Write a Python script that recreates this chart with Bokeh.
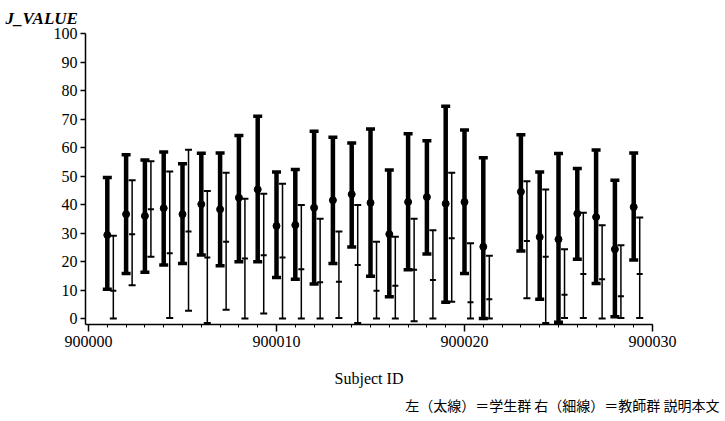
from bokeh.plotting import figure
from bokeh.models import ColumnDataSource, Range1d, SingleIntervalTicker, Title, BasicTickFormatter
from bokeh.transform import dodge
from bokeh.embed import file_html
from bokeh.resources import INLINE

subjects = [900001, 900002, 900003, 900004, 900005, 900006, 900007, 900008, 900009, 900010,
            900011, 900012, 900013, 900014, 900015, 900016, 900017, 900018, 900019, 900020,
            900021, 900023, 900024, 900025, 900026, 900027, 900028, 900029]

stu_max = [49.5, 57.5, 55.6, 58.4, 54.3, 58.0, 58.1, 64.2, 71.0, 51.4,
           52.3, 65.7, 63.6, 61.6, 66.5, 52.1, 64.8, 62.4, 74.5, 66.1,
           56.4, 64.5, 51.4, 57.9, 52.6, 59.1, 48.5, 58.1]
stu_mean = [29.3, 36.6, 36.0, 38.7, 36.6, 40.1, 38.3, 42.4, 45.3, 32.5,
            32.8, 38.9, 41.5, 43.6, 40.6, 29.6, 40.9, 42.6, 40.3, 40.9,
            25.2, 44.5, 28.6, 27.8, 36.8, 35.6, 24.3, 39.1]
stu_min = [10.3, 15.8, 16.2, 18.8, 19.3, 22.3, 18.5, 19.9, 19.9, 14.4,
           13.8, 12.1, 19.3, 25.1, 14.8, 7.6, 17.1, 22.6, 5.7, 15.8,
           0.0, 23.7, 6.8, -1.3, 20.8, 12.3, 0.6, 20.5]

tea_max = [29.0, 48.5, 55.2, 51.6, 59.2, 44.7, 51.1, 42.0, 43.8, 47.3,
           39.8, 35.0, 30.5, 39.8, 26.9, 28.7, 35.0, 31.0, 51.1, 26.4,
           22.0, 48.2, 45.3, 24.3, 37.1, 32.7, 25.7, 35.4]
tea_mean = [9.7, 29.6, 38.3, 22.9, 30.5, 21.4, 26.9, 21.1, 22.2, 21.4,
            17.3, 12.7, 12.9, 18.8, 9.7, 11.5, 17.1, 13.5, 28.2, 5.7,
            6.8, 27.2, 21.7, 8.3, 15.6, 13.8, 7.8, 15.6]
tea_min = [0.0, 11.7, 21.7, 0.2, 2.7, -1.6, 3.1, 0.0, 1.8, 0.0,
           0.0, 0.0, 0.2, -1.6, 0.0, 0.0, -1.0, 0.0, 5.9, 0.0,
           0.0, 7.1, -1.6, 0.2, 0.2, 0.0, 0.2, 0.2]

x_ticks_interval = 10
y_label = "J_VALUE"
x_label = "Subject ID"
note = "左（太線）＝学生群 右（細線）＝教師群 説明本文"

p = figure(width=725, height=421, output_backend="svg", toolbar_location=None,
           x_range=Range1d(899999.84, 900030), y_range=Range1d(-2.1, 100),
           min_border_left=85, min_border_right=73, min_border_top=33, min_border_bottom=97)
p.outline_line_color = None
p.xgrid.visible = False
p.ygrid.visible = False
p.background_fill_color = "white"
p.border_fill_color = "white"

serif = "Liberation Serif"

# y label placed as a left-aligned title at the top-left
p.title.text = y_label
p.title.align = "left"
p.title.offset = -80
p.title.standoff = 12
p.title.text_font = serif
p.title.text_font_style = "bold italic"
p.title.text_font_size = "17px"
p.title.text_color = "black"

xa = p.xaxis[0]
xa.ticker = SingleIntervalTicker(interval=x_ticks_interval, num_minor_ticks=10)
xa.formatter = BasicTickFormatter(use_scientific=False)
xa.major_tick_out = 7
xa.major_tick_in = 0
xa.minor_tick_out = 3
xa.minor_tick_in = 0
xa.axis_line_width = 1.5
xa.major_tick_line_width = 1.5
xa.major_label_text_font = serif
xa.major_label_text_font_size = "16px"
xa.major_label_text_color = "black"
xa.major_label_standoff = 4
xa.axis_label = x_label
xa.axis_label_text_font = serif
xa.axis_label_text_font_style = "normal"
xa.axis_label_text_font_size = "16px"
xa.axis_label_text_color = "black"
xa.axis_label_standoff = 20

ya = p.yaxis[0]
ya.ticker = SingleIntervalTicker(interval=10, num_minor_ticks=0)
ya.major_tick_out = 5
ya.major_tick_in = 0
ya.axis_line_width = 1.5
ya.major_tick_line_width = 1.5
ya.major_label_text_font = serif
ya.major_label_text_font_size = "16px"
ya.major_label_text_color = "black"
ya.major_label_standoff = 3

src_s = ColumnDataSource(dict(x=subjects, lo=stu_min, mid=stu_mean, hi=stu_max))
src_t = ColumnDataSource(dict(x=subjects, lo=tea_min, mid=tea_mean, hi=tea_max))

# thick bars (students)
p.segment(x0="x", y0="lo", x1="x", y1="hi", source=src_s, line_color="black", line_width=4.5)
p.scatter(x="x", y="hi", source=src_s, marker="dash", size=9, line_width=3.5, line_color="black")
p.scatter(x="x", y="lo", source=src_s, marker="dash", size=9, line_width=3.5, line_color="black")
p.scatter(x="x", y="mid", source=src_s, marker="circle", size=7, fill_color="black", line_color="black")

# thin bars (teachers)
dx = dodge("x", 0.32)
p.segment(x0=dx, y0="lo", x1=dx, y1="hi", source=src_t, line_color="black", line_width=1.5)
p.scatter(x=dx, y="hi", source=src_t, marker="dash", size=7, line_width=2, line_color="black")
p.scatter(x=dx, y="lo", source=src_t, marker="dash", size=7, line_width=2, line_color="black")
p.scatter(x=dx, y="mid", source=src_t, marker="dash", size=6, line_width=2, line_color="black")

p.add_layout(Title(text=note, align="right", offset=-67, standoff=6,
                   text_font="Noto Sans CJK JP", text_font_style="normal",
                   text_font_size="14px", text_color="black"), "below")

open("out.html", "w").write(file_html(p, INLINE))
